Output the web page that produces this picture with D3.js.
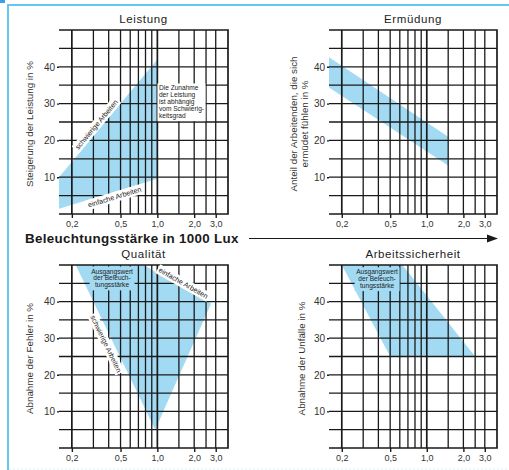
<!DOCTYPE html>
<html>
<head>
<meta charset="utf-8">
<script src="https://cdnjs.cloudflare.com/ajax/libs/d3/7.8.5/d3.min.js"></script>
<style>
  body { margin: 0; background: #fff; }
  svg { display: block; font-family: "Liberation Sans", Arial, sans-serif; }
</style>
</head>
<body>
<svg id="chart" width="509" height="470"></svg>
<script>
// grid + ticks (log x axis, Beleuchtungsstärke in 1000 Lux)
var gridX = [0.2, 0.3, 0.4, 0.5, 0.6, 0.7, 0.8, 0.9, 1.0, 1.5, 2.0, 2.5, 3.0];
var tickX = [0.2, 0.5, 1.0, 2.0, 3.0];
var gridY = [5, 10, 15, 20, 25, 30, 35, 40, 45];
var tickY = [10, 20, 30, 40];
var xDomain = [0.157, 3.78];
var yDomain = [0, 50];

// shaded areas, [lux, %]
var leistung = [[0.157, 10], [1.0, 42], [1.0, 9.6], [0.157, 1.4]];
var ermuedung = [[0.157, 42.6], [1.5, 21], [1.5, 13.2], [0.157, 34.4]];
var qualitaet = [[0.215, 50], [0.77, 50], [2.75, 39.5], [0.96, 5]];
var sicherheit = [[0.2, 50], [0.63, 50], [2.5, 25], [0.5, 25]];

var blue = '#a3daf3';
var ink = '#1a1a1a';

var svg = d3.select('#chart');

// cyan frame
svg.append('rect').attr('x', 0).attr('y', 0).attr('width', 5).attr('height', 3).attr('fill', '#3aa0e8');
svg.append('line').attr('x1', 7).attr('x2', 509).attr('y1', 5).attr('y2', 5)
  .attr('stroke', '#5fcaf0').attr('stroke-width', 2);
svg.append('line').attr('x1', 8).attr('x2', 8).attr('y1', 4).attr('y2', 470)
  .attr('stroke', '#5fcaf0').attr('stroke-width', 2);
svg.append('line').attr('x1', 9).attr('x2', 509).attr('y1', 469).attr('y2', 469)
  .attr('stroke', '#d6eff9').attr('stroke-width', 1).attr('stroke-dasharray', '2,2');

var panels = [
  { title: 'Leistung', area: leistung, left: 59, top: 30, width: 169, height: 184,
    ylabel: ['Steigerung der Leistung in %'], ylabelX: 30,
    edges: [
      { text: 'schwierige Arbeiten', p1: leistung[0], p2: leistung[1], t: 0.42, off: -5 },
      { text: 'einfache Arbeiten', p1: leistung[3], p2: leistung[2], t: 0.55, off: 5 }
    ],
    notes: [{ lines: ['Die Zunahme', 'der Leistung', 'ist abhängig', 'vom Schwierig-', 'keitsgrad'],
              at: [1.03, 34.2], anchor: 'start', fill: '#fff' }] },
  { title: 'Ermüdung', area: ermuedung, left: 329, top: 30, width: 168, height: 184,
    ylabel: ['Anteil der Arbeitenden, die sich', 'ermüdet fühlen in %'], ylabelX: 294,
    edges: [], notes: [] },
  { title: 'Qualität', area: qualitaet, left: 59, top: 265, width: 169, height: 183,
    ylabel: ['Abnahme der Fehler in %'], ylabelX: 30,
    edges: [
      { text: 'einfache Arbeiten', p1: qualitaet[1], p2: qualitaet[2], t: 0.56, off: -4 },
      { text: 'schwierige Arbeiten', p1: qualitaet[0], p2: qualitaet[3], t: 0.46, off: 7 }
    ],
    notes: [{ lines: ['Ausgangswert', 'der Beleuch-', 'tungsstärke'], at: [0.426, 48.3], anchor: 'middle', fill: blue }] },
  { title: 'Arbeitssicherheit', area: sicherheit, left: 329, top: 265, width: 168, height: 183,
    ylabel: ['Abnahme der Unfälle in %'], ylabelX: 302,
    edges: [],
    notes: [{ lines: ['Ausgangswert', 'der Beleuch-', 'tungsstärke'], at: [0.39, 48.1], anchor: 'middle', fill: blue }] }
];

var fmt = function (d) { return d.toFixed(1).replace('.', ','); };

panels.forEach(function (p) {
  var x = d3.scaleLog().domain(xDomain).range([0, p.width]);
  var y = d3.scaleLinear().domain(yDomain).range([p.height, 0]);
  var g = svg.append('g').attr('transform', 'translate(' + p.left + ',' + p.top + ')');

  // shaded band
  g.append('path')
    .datum(p.area)
    .attr('d', d3.line().x(function (d) { return x(d[0]); }).y(function (d) { return y(d[1]); }).curve(d3.curveLinearClosed))
    .attr('fill', blue);

  // grid
  g.selectAll('.gy').data(gridY).enter().append('line')
    .attr('x1', 0).attr('x2', p.width)
    .attr('y1', function (d) { return y(d); }).attr('y2', function (d) { return y(d); })
    .attr('stroke', ink).attr('stroke-width', 1.3);
  g.selectAll('.gx').data(gridX).enter().append('line')
    .attr('x1', function (d) { return x(d); }).attr('x2', function (d) { return x(d); })
    .attr('y1', y(50)).attr('y2', y(0))
    .attr('stroke', ink).attr('stroke-width', function (d) { return d === 0.2 || d === 1.0 ? 1.7 : 1.3; });
  // frame: top, bottom, right
  g.append('path')
    .attr('d', 'M0,' + y(50) + 'H' + p.width + 'V' + y(0) + 'H0')
    .attr('fill', 'none').attr('stroke', ink).attr('stroke-width', 1.7);

  // axes
  var ax = g.append('g').attr('transform', 'translate(0,' + p.height + ')')
    .call(d3.axisBottom(x).tickValues(tickX).tickFormat(fmt).tickSize(4).tickPadding(3));
  var ay = g.append('g')
    .call(d3.axisLeft(y).tickValues(tickY).tickSize(2).tickPadding(2));
  [ax, ay].forEach(function (a) {
    a.select('.domain').remove();
    a.selectAll('line').attr('stroke', ink).attr('stroke-width', 1.4);
    a.selectAll('text').attr('fill', '#333').style('font-family', '"Liberation Sans", Arial, sans-serif');
  });
  ax.selectAll('text').style('font-size', '9px');
  ay.selectAll('text').style('font-size', '10px');

  // title
  g.append('text')
    .attr('x', p.width / 2).attr('y', -7)
    .attr('text-anchor', 'middle')
    .style('font-size', '11.5px').style('letter-spacing', '0.6px')
    .attr('fill', '#222')
    .text(p.title);

  // y label
  var yl = svg.append('text')
    .attr('transform', 'translate(' + p.ylabelX + ',' + (p.top + p.height / 2 + 2) + ') rotate(-90)')
    .attr('text-anchor', 'middle')
    .style('font-size', '9.8px').attr('fill', '#333');
  p.ylabel.forEach(function (s, i) {
    yl.append('tspan').attr('x', 0).attr('dy', i === 0 ? '0.35em' : '1.05em').text(s);
  });

  // labels along the band edges
  p.edges.forEach(function (e) {
    var x1 = x(e.p1[0]), y1 = y(e.p1[1]), x2 = x(e.p2[0]), y2 = y(e.p2[1]);
    var len = Math.hypot(x2 - x1, y2 - y1);
    var nx = -(y2 - y1) / len, ny = (x2 - x1) / len;
    var cx = x1 + (x2 - x1) * e.t + nx * e.off;
    var cy = y1 + (y2 - y1) * e.t + ny * e.off;
    var ang = Math.atan2(y2 - y1, x2 - x1) * 180 / Math.PI;
    var lg = g.append('g').attr('transform', 'translate(' + cx + ',' + cy + ') rotate(' + ang + ')');
    var tx = lg.append('text').attr('text-anchor', 'middle').attr('dy', '0.35em')
      .style('font-size', '7.2px').attr('fill', '#222').text(e.text);
    var bb = tx.node().getBBox();
    lg.insert('rect', 'text')
      .attr('x', bb.x - 1.5).attr('y', bb.y - 0.5).attr('width', bb.width + 3).attr('height', bb.height + 1)
      .attr('fill', '#fff');
  });

  // text notes
  p.notes.forEach(function (n) {
    var ng = g.append('g').attr('transform', 'translate(' + x(n.at[0]) + ',' + y(n.at[1]) + ')');
    var tx = ng.append('text').attr('text-anchor', n.anchor)
      .style('font-size', '6.6px').attr('fill', '#222');
    n.lines.forEach(function (s, i) {
      tx.append('tspan').attr('x', 0).attr('dy', i === 0 ? '0.35em' : '1.05em').text(s);
    });
    var bb = tx.node().getBBox();
    ng.insert('rect', 'text')
      .attr('x', bb.x - 1.5).attr('y', bb.y - 1).attr('width', bb.width + 3).attr('height', bb.height + 2)
      .attr('fill', n.fill);
  });
});

// common x axis title with arrow
svg.append('text')
  .attr('x', 25).attr('y', 243)
  .style('font-size', '13.4px').style('font-weight', 'bold').style('letter-spacing', '0.3px')
  .attr('fill', '#1a1a1a')
  .text('Beleuchtungsstärke in 1000 Lux');
svg.append('line').attr('x1', 249).attr('x2', 490).attr('y1', 238.5).attr('y2', 238.5)
  .attr('stroke', ink).attr('stroke-width', 1.2);
svg.append('path').attr('d', 'M487,234.5 L498,238.5 L487,242.5 Z').attr('fill', ink);
</script>
</body>
</html>
